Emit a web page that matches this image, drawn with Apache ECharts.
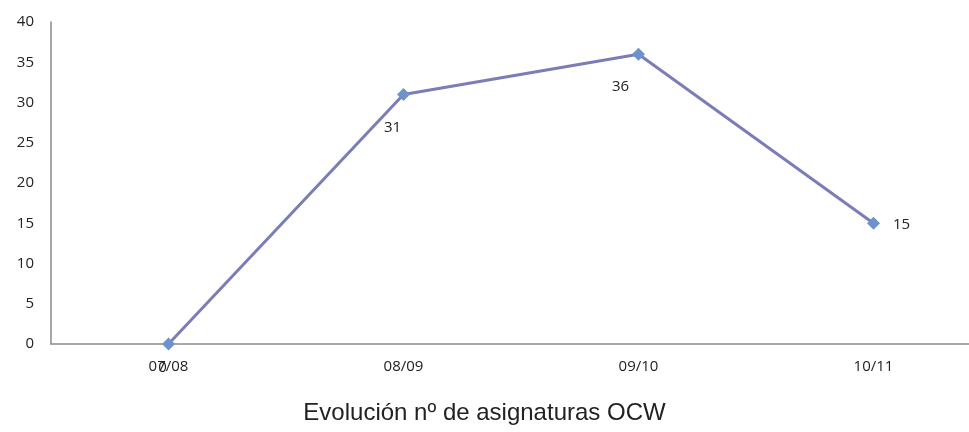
<!DOCTYPE html>
<html><head><meta charset="utf-8">
<script src="https://cdn.jsdelivr.net/npm/echarts@6/dist/echarts.min.js"></script>
<style>html,body{margin:0;padding:0;background:#fff}#c{width:969px;height:432px}</style>
</head><body><div id="c"></div>
<script>
const categories = ['07/08', '08/09', '09/10', '10/11'];
const values = [0, 31, 36, 15];
const labelPositions = ['bottom', 'bottom', 'bottom', 'right'];
const labelOffsets = [[-6, 5], [-11, 14], [-18, 14], [8, 1]];
const yTicks = [0, 5, 10, 15, 20, 25, 30, 35, 40];

const chart = echarts.init(document.getElementById('c'));
const font = '"Open Sans", sans-serif';
chart.setOption({
  animation: false,
  title: {
    text: 'Evolución nº de asignaturas OCW',
    left: 'center', top: 396,
    textStyle: { fontFamily: '"Liberation Sans", Arial, sans-serif', fontSize: 24, fontWeight: 'normal', color: '#222' }
  },
  grid: { left: 51, top: 22, width: 940, height: 322, outerBoundsMode: 'none', containLabel: false },
  xAxis: {
    type: 'category', data: categories, boundaryGap: true,
    axisLine: { lineStyle: { color: '#8a8a8a', width: 1.5 } },
    axisTick: { show: false },
    axisLabel: { fontFamily: font, fontSize: 15, color: '#222', margin: 15 }
  },
  yAxis: {
    type: 'value', min: yTicks[0], max: yTicks[yTicks.length - 1], interval: 5,
    axisLine: { show: true, lineStyle: { color: '#8a8a8a', width: 1.5 } },
    axisTick: { show: false },
    splitLine: { show: false },
    axisLabel: { fontFamily: font, fontSize: 15, color: '#222', margin: 17 }
  },
  series: [{
    type: 'line',
    data: values.map((v, i) => ({
      value: v,
      label: { show: true, position: labelPositions[i], offset: labelOffsets[i] }
    })),
    symbol: 'diamond', symbolSize: 13,
    lineStyle: { color: '#7b7db8', width: 3 },
    itemStyle: { color: '#6e93cc' },
    label: { fontFamily: font, fontSize: 15, color: '#222' }
  }]
});
</script></body></html>
